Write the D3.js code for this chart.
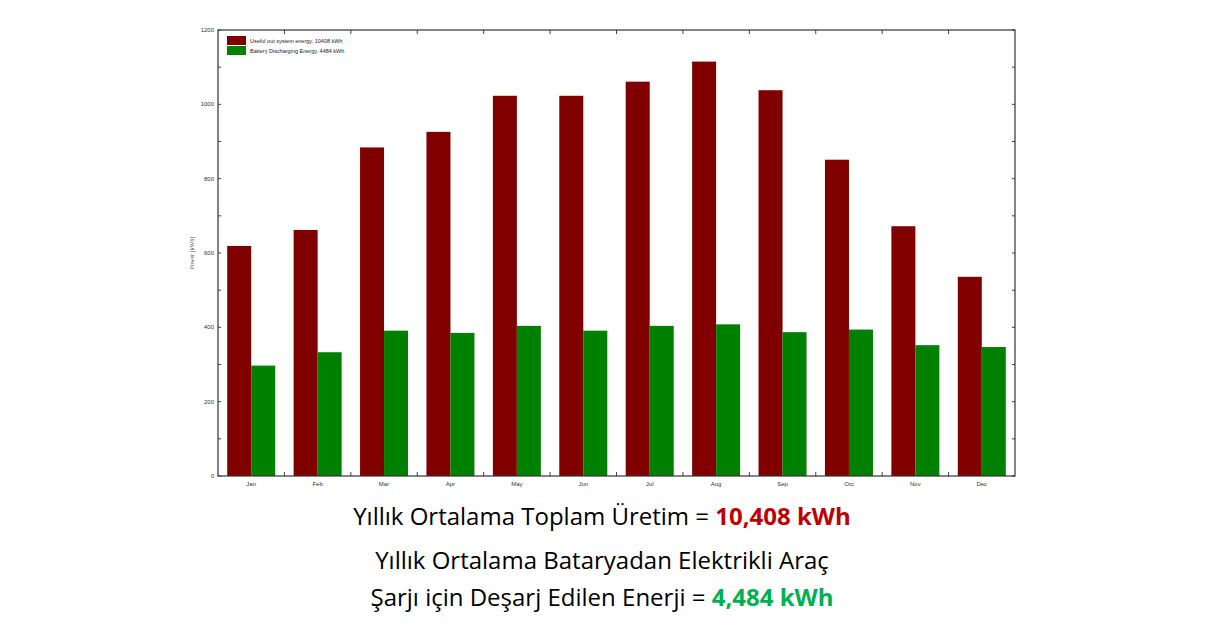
<!DOCTYPE html>
<html><head><meta charset="utf-8">
<script src="https://cdn.jsdelivr.net/npm/d3@7"></script>
<style>body{margin:0;background:#fff}</style></head>
<body><div id="chart"></div>
<script>
const width = 1205, height = 641;
const months = ["Jan","Feb","Mar","Apr","May","Jun","Jul","Aug","Sep","Oct","Nov","Dec"];
const useful = [619, 662, 884, 926, 1023, 1023, 1061, 1115, 1038, 851, 672, 536];
const battery = [297, 333, 391, 385, 404, 391, 404, 408, 387, 394, 352, 347];
const seriesNames = ["Useful out system energy,  10408 kWh", "Battery Discharging Energy,  4484 kWh"];
const colors = ["#800000", "#008000"];
const yTicks = [0, 200, 400, 600, 800, 1000, 1200];

const svg = d3.select("#chart").append("svg").attr("width", width).attr("height", height);
const m = {left: 218, right: 1015, top: 30, bottom: 476};

const x = d3.scaleBand().domain(months).range([m.left, m.right]);
const y = d3.scaleLinear().domain([0, 1200]).range([m.bottom, m.top]);
const bw = 24;

// minor ticks
const minor = d3.range(0, 1201, 100);
svg.selectAll(".ml").data(minor).enter().append("line")
    .attr("x1", m.left).attr("x2", m.left + 3).attr("y1", y).attr("y2", y).attr("stroke", "#444");
svg.selectAll(".mr").data(minor).enter().append("line")
    .attr("x1", m.right).attr("x2", m.right - 3).attr("y1", y).attr("y2", y).attr("stroke", "#444");
const bounds = months.slice(1).map(d => x(d));
svg.selectAll(".tb").data(bounds).enter().append("line")
    .attr("x1", d => d).attr("x2", d => d).attr("y1", m.bottom).attr("y2", m.bottom - 4).attr("stroke", "#444");
svg.selectAll(".tt").data(bounds).enter().append("line")
    .attr("x1", d => d).attr("x2", d => d).attr("y1", m.top).attr("y2", m.top + 4).attr("stroke", "#444");

svg.selectAll(".yl").data(yTicks).enter().append("text")
    .attr("x", m.left - 4).attr("y", d => y(d) + 2).attr("text-anchor", "end")
    .attr("font-family", "Liberation Sans").attr("font-size", 6).attr("fill", "#333").text(d => d);
svg.selectAll(".xl").data(months).enter().append("text")
    .attr("x", d => x(d) + x.bandwidth() / 2).attr("y", m.bottom + 10).attr("text-anchor", "middle")
    .attr("font-family", "Liberation Sans").attr("font-size", 6).attr("fill", "#333").text(d => d);
svg.append("text").attr("transform", `translate(194,${(m.top + m.bottom) / 2}) rotate(-90)`)
    .attr("text-anchor", "middle").attr("font-family", "Liberation Serif").attr("font-size", 6)
    .attr("fill", "#555").text("Power  [kWh]");

svg.selectAll(".b1").data(useful).enter().append("rect")
    .attr("x", (d, i) => x(months[i]) + x.bandwidth() / 2 - bw).attr("width", bw)
    .attr("y", d => y(d)).attr("height", d => y(0) - y(d)).attr("fill", colors[0]);
svg.selectAll(".b2").data(battery).enter().append("rect")
    .attr("x", (d, i) => x(months[i]) + x.bandwidth() / 2).attr("width", bw)
    .attr("y", d => y(d)).attr("height", d => y(0) - y(d)).attr("fill", colors[1]);

svg.append("rect").attr("x", m.left).attr("y", m.top).attr("width", m.right - m.left)
    .attr("height", m.bottom - m.top).attr("fill", "none").attr("stroke", "#333").attr("stroke-width", 1.2);

// legend
seriesNames.forEach((s, i) => {
    svg.append("rect").attr("x", 227).attr("y", 36 + i * 10).attr("width", 19).attr("height", 9).attr("fill", colors[i]);
    svg.append("text").attr("x", 250).attr("y", 43 + i * 10).attr("font-family", "Liberation Sans")
        .attr("font-size", 5.5).attr("fill", "#222").text(s);
});

// captions
const cap = (yy, parts) => {
    const t = svg.append("text").attr("x", 602).attr("y", yy).attr("text-anchor", "middle")
        .attr("font-family", "Open Sans, Noto Sans").attr("font-size", 24).attr("font-weight", 500);
    parts.forEach(p => t.append("tspan").attr("fill", p[1]).attr("font-weight", p[2] || 500).text(p[0]));
};
cap(525, [["Yıllık Ortalama Toplam Üretim = ", "#000"], ["10,408 kWh", "#c00000", 700]]);
cap(569, [["Yıllık Ortalama Bataryadan Elektrikli Araç", "#000"]]);
cap(606, [["Şarjı için Deşarj Edilen Enerji = ", "#000"], ["4,484 kWh", "#00b050", 700]]);
</script></body></html>
